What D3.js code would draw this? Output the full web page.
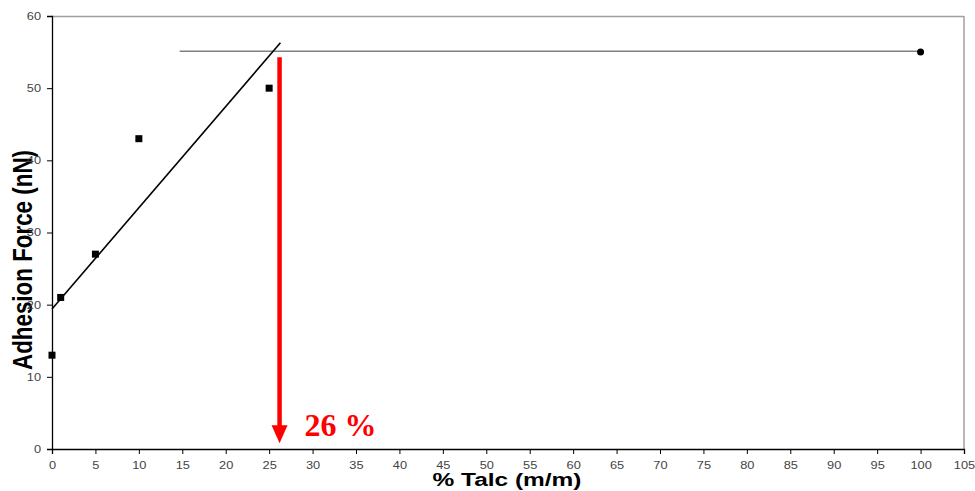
<!DOCTYPE html>
<html><head><meta charset="utf-8">
<script src="https://cdn.jsdelivr.net/npm/d3@7"></script>
<style>body{margin:0;background:#fff}svg{display:block}</style>
</head><body>
<svg id="c" width="975" height="491"></svg>
<script>
const talc = [0, 1, 5, 10, 25];
const force = [13, 21, 27, 43, 50];
const plateauX = [100];
const plateauY = [55];
const trendX = [0, 26.3];
const trendY = [19.4, 56.3];
const plateauLineX = [14.7, 100];
const plateauLineY = [55.1, 55.1];
const arrowX = 26.2;
const arrowY = [54.3, 0.8];
const arrowLabel = "26 %";
const xTicks = d3.range(0, 106, 5);
const yTicks = [0, 10, 20, 30, 40, 50, 60];

const svg = d3.select("#c");
const x = d3.scaleLinear().domain([0, 105]).range([52, 964]);
const y = d3.scaleLinear().domain([0, 60]).range([449, 16]);

// axis titles (drawn first so tick labels sit on top)
svg.append("text").attr("x", 507).attr("y", 486).attr("text-anchor", "middle")
  .attr("textLength", 149).attr("lengthAdjust", "spacingAndGlyphs")
  .attr("font-family", "Liberation Sans, Arial, sans-serif").attr("font-weight", "bold").attr("font-size", 18).text("% Talc (m/m)");
svg.append("text").attr("transform", "translate(32,260) rotate(-90)").attr("text-anchor", "middle")
  .attr("textLength", 220).attr("lengthAdjust", "spacingAndGlyphs")
  .attr("font-family", "Liberation Sans, Arial, sans-serif").attr("font-weight", "bold").attr("font-size", 28).text("Adhesion Force (nN)");

// frame top/right
svg.append("line").attr("x1", 52).attr("x2", 964).attr("y1", 16.5).attr("y2", 16.5).attr("stroke", "#a0a0a0").attr("stroke-width", 1.5);
svg.append("line").attr("x1", 964).attr("x2", 964).attr("y1", 16).attr("y2", 449).attr("stroke", "#a0a0a0").attr("stroke-width", 1.5);

const ax = svg.append("g").attr("transform", "translate(0,449)")
  .call(d3.axisBottom(x).tickValues(xTicks).tickSize(5).tickPadding(8).tickFormat(d3.format("d")));
const ay = svg.append("g").attr("transform", "translate(52,0)")
  .call(d3.axisLeft(y).tickValues(yTicks).tickSize(5).tickPadding(4).tickFormat(d3.format("d")));
[ax, ay].forEach(g => {
  g.select(".domain").attr("stroke", "#000").attr("stroke-width", 1.3);
  g.selectAll(".tick line").attr("stroke", "#000");
  g.selectAll(".tick text").attr("font-family", "Liberation Sans, Arial, sans-serif").attr("font-size", 10.5)
    .attr("fill", "#444").attr("transform", "scale(1.22,1)");
});

// plateau line
svg.append("line").attr("x1", x(plateauLineX[0])).attr("x2", x(plateauLineX[1]))
  .attr("y1", y(plateauLineY[0])).attr("y2", y(plateauLineY[1])).attr("stroke", "#808080").attr("stroke-width", 1.5);

// trend line
svg.append("line").attr("x1", x(trendX[0])).attr("x2", x(trendX[1]))
  .attr("y1", y(trendY[0])).attr("y2", y(trendY[1])).attr("stroke", "#000").attr("stroke-width", 1.6);

// squares
svg.selectAll("rect.pt").data(talc).join("rect").attr("class", "pt")
  .attr("x", (d) => x(d) - 3.5).attr("y", (d, i) => y(force[i]) - 3.5)
  .attr("width", 7).attr("height", 7).attr("fill", "#000");

// plateau point
svg.selectAll("circle.pp").data(plateauX).join("circle").attr("class", "pp")
  .attr("cx", d => x(d)).attr("cy", (d, i) => y(plateauY[i])).attr("r", 3.5).attr("fill", "#000");

// red arrow
const ax0 = x(arrowX), ayTop = y(arrowY[0]), ayBot = y(arrowY[1]);
svg.append("line").attr("x1", ax0).attr("x2", ax0).attr("y1", ayTop).attr("y2", ayBot - 16)
  .attr("stroke", "#ff0000").attr("stroke-width", 4.5);
svg.append("path").attr("d", `M${ax0 - 8},${ayBot - 18} L${ax0 + 8},${ayBot - 18} L${ax0},${ayBot} Z`).attr("fill", "#ff0000");
svg.append("text").attr("x", ax0 + 25).attr("y", 436).text(arrowLabel)
  .attr("font-family", "Liberation Serif, Times New Roman, serif").attr("font-weight", "bold").attr("font-size", 32).attr("fill", "#ff0000");
</script>
</body></html>
